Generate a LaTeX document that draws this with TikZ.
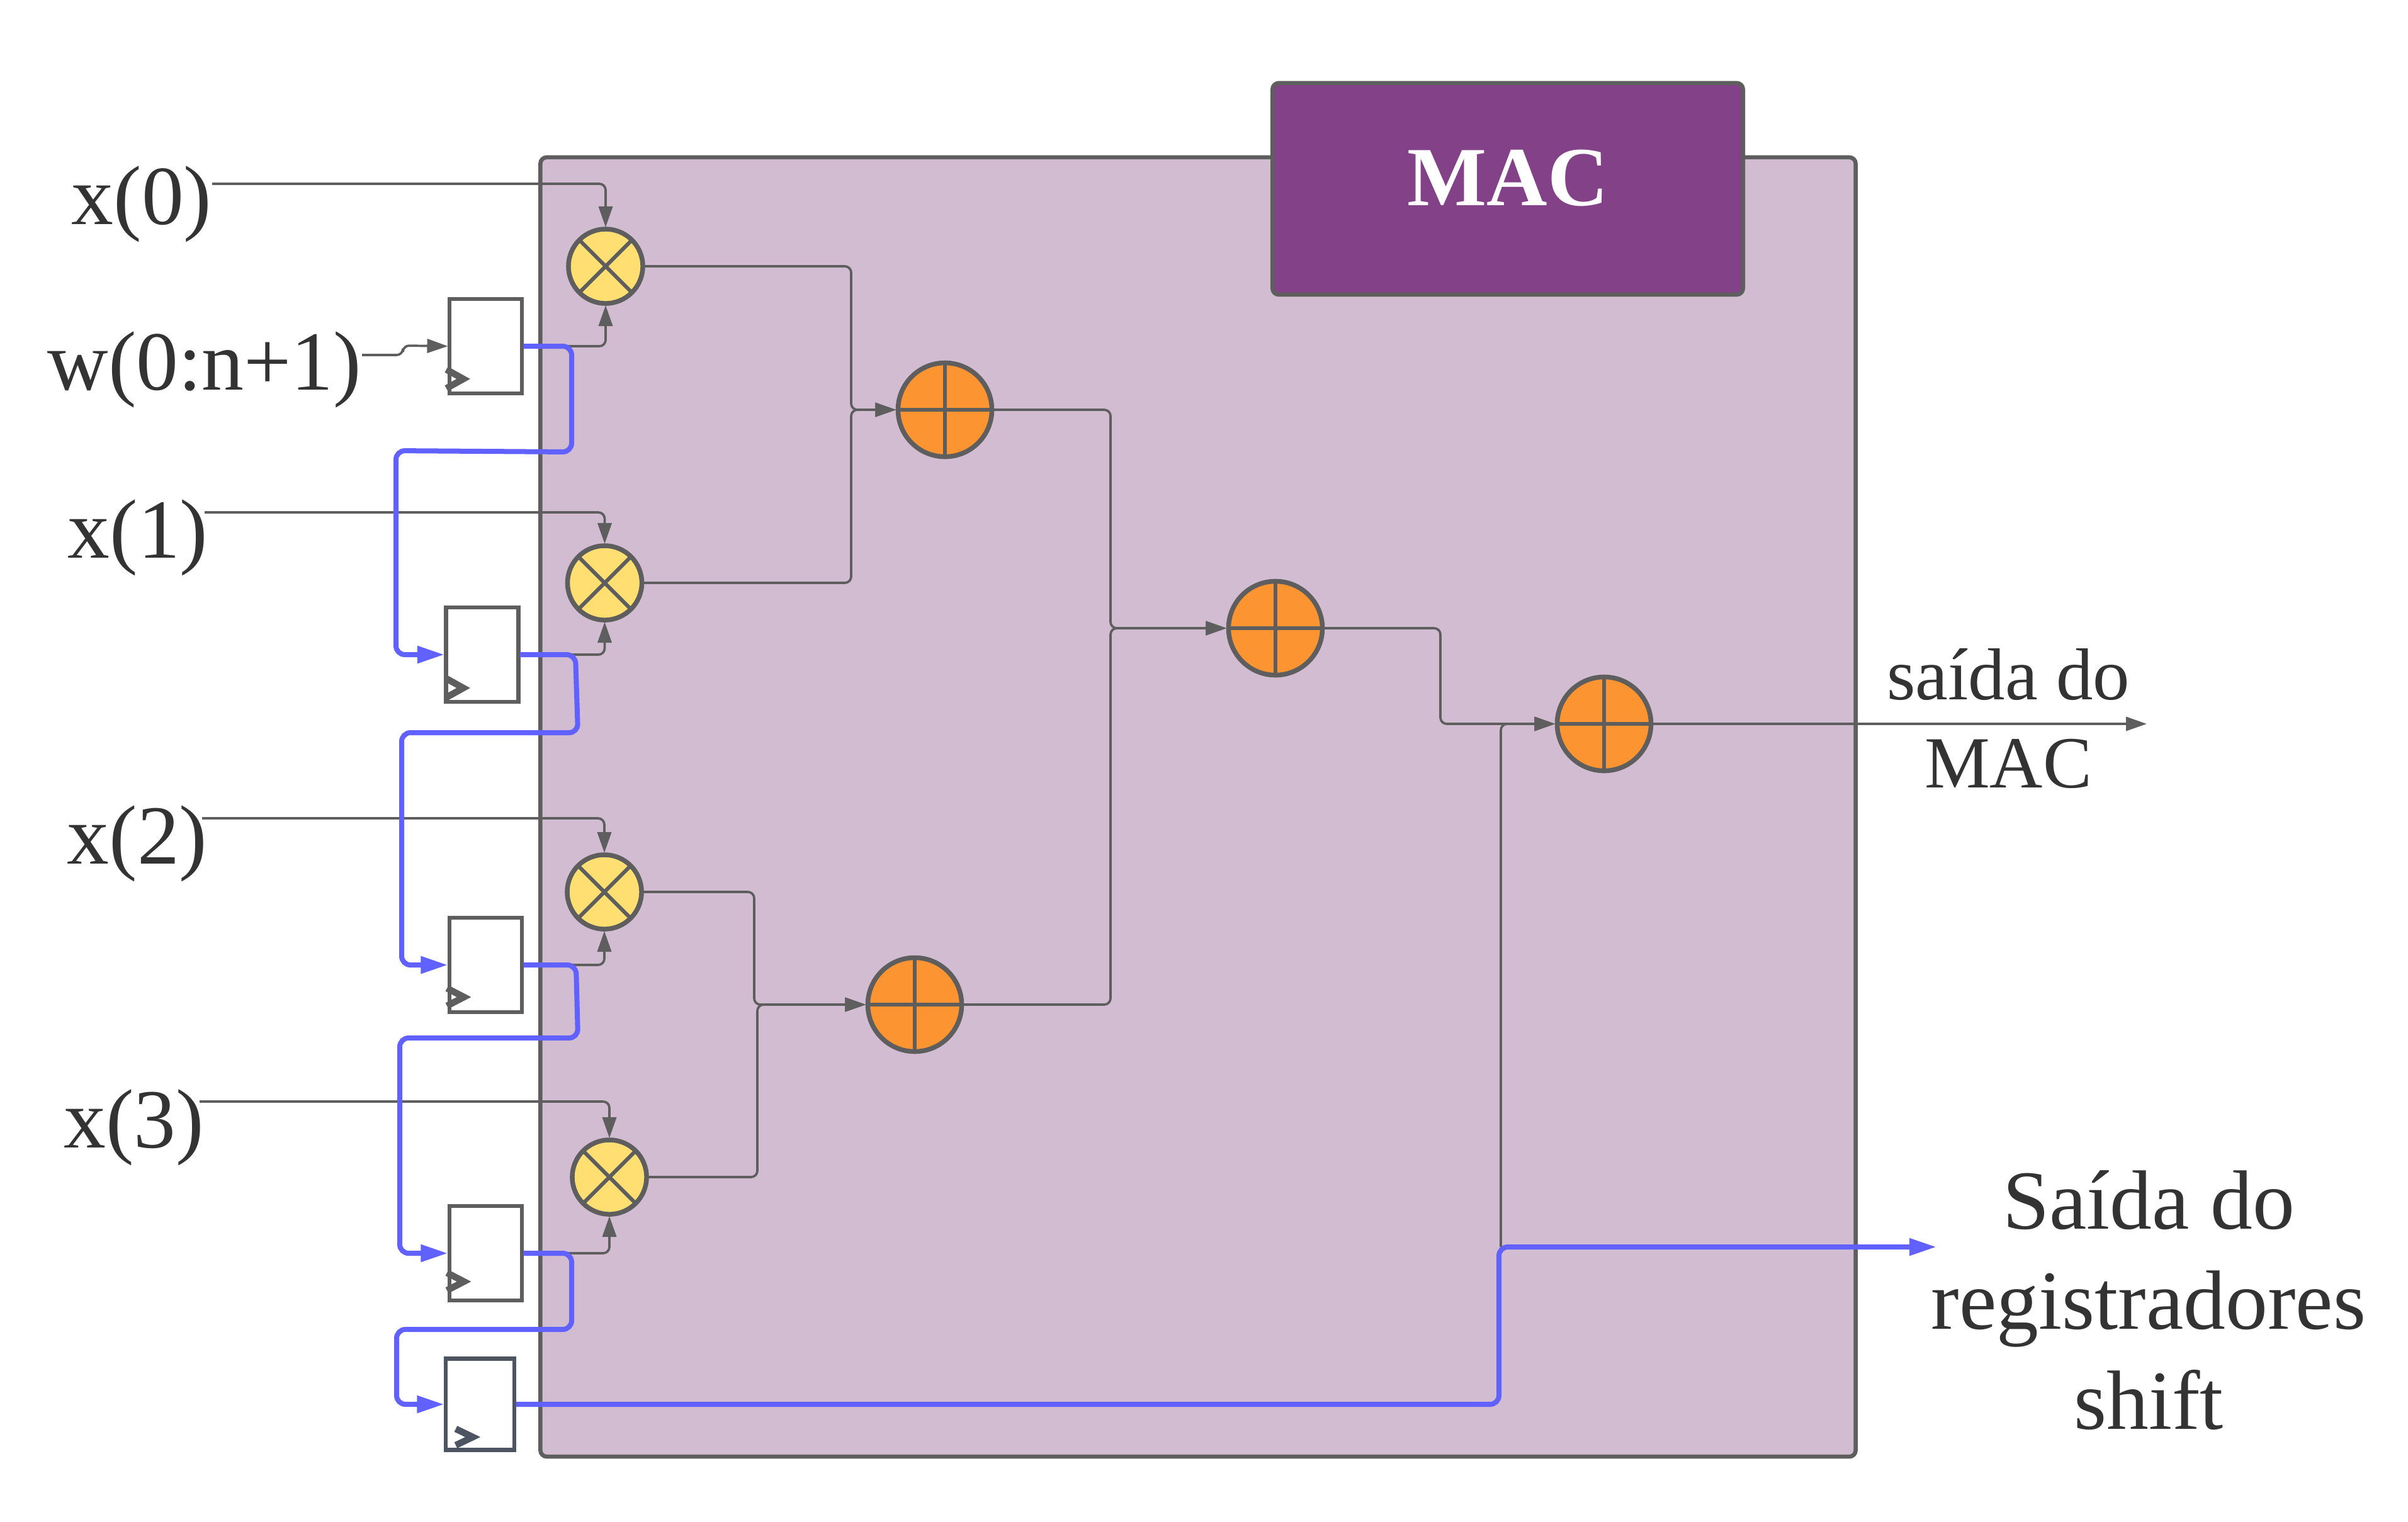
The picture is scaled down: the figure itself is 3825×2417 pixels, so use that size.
\documentclass[tikz,border=0pt]{standalone}
\usepackage{fontspec}
\setmainfont{Liberation Serif}
\usetikzlibrary{arrows.meta,calc}
\definecolor{linegray}{HTML}{5E5E5E}
\definecolor{wireblue}{HTML}{6161FF}
\definecolor{lilac}{HTML}{D1BCD2}
\definecolor{macpurple}{HTML}{834187}
\definecolor{multyellow}{HTML}{FFDF71}
\definecolor{addorange}{HTML}{FC9432}
\definecolor{txt}{HTML}{333333}
\definecolor{slate}{HTML}{4C5561}
\tikzset{
  panel/.style={draw=linegray,line width=0.065cm,rounded corners=0.1cm,inner sep=0pt,outer sep=0pt},
  regbox/.style={draw=linegray,fill=white,line width=0.065cm,minimum width=1.15cm,minimum height=1.5cm,inner sep=0pt,outer sep=0.025cm},
  multc/.style={circle,draw=linegray,fill=multyellow,line width=0.075cm,minimum size=1.18cm,inner sep=0pt,outer sep=0.03cm},
  addc/.style={circle,draw=linegray,fill=addorange,line width=0.075cm,minimum size=1.49cm,inner sep=0pt,outer sep=0.03cm},
  xmark/.style={draw=linegray,line width=0.06cm},
  wire/.style={draw=linegray,line width=0.037cm,rounded corners=0.1cm},
  wirearrow/.style={wire,-{Stealth[inset=0pt,length=0.33cm,width=0.22cm]}},
  bluewire/.style={draw=wireblue,line width=0.08cm,rounded corners=0.14cm},
  bluearrow/.style={bluewire,-{Stealth[inset=0pt,length=0.43cm,width=0.26cm]}},
  clk/.style={draw=linegray,line width=0.105cm,miter limit=10},
  inlabel/.style={text=txt,font=\fontsize{38}{45}\selectfont,anchor=base,inner sep=0pt},
}
\begin{document}
\begin{tikzpicture}[x=0.01cm,y=-0.01cm]
\useasboundingbox (0,0) rectangle (3825,2417);
% panels
\node[panel,fill=lilac,minimum width=20.88cm,minimum height=20.63cm] (panelbody) at (1903,1282) {};
% labels
\node[inlabel] (x0) at (225,356) {x(0)};
\node[inlabel] (w0) at (325,619) {w(0:n+1)};
\node[inlabel] (x1) at (219,886) {x(1)};
\node[inlabel] (x2) at (218,1372) {x(2)};
\node[inlabel] (x3) at (212.5,1823) {x(3)};
% free ends and junctions
\coordinate (c0) at (337,292);
\coordinate (cw) at (575,564);
\coordinate (cws1) at (640,564);
\coordinate (cws2) at (640,549);
\coordinate (c1) at (325,814);
\coordinate (c2) at (321,1300);
\coordinate (c3) at (317,1750);
\coordinate (j0) at (1352,651);
\coordinate (j1) at (1198,1596);
\coordinate (j1b) at (1203,1596);
\coordinate (j2) at (1764,998);
\coordinate (j3) at (2288,1150);
\coordinate (g0) at (2384,1981);
\coordinate (oute) at (3410,1150);
\coordinate (outb) at (3076,1981);
\coordinate (b4a) at (2381,1981);
\coordinate (b0a) at (908,718);
\coordinate (b0b) at (629,716);
\coordinate (b1a) at (914,1040);
\coordinate (b1b) at (918,1164);
\coordinate (b1c) at (638,1164);
\coordinate (b2a) at (915,1533);
\coordinate (b2b) at (918,1649);
\coordinate (b2c) at (635,1649);
\coordinate (b3a) at (908,2112);
\coordinate (b3b) at (630,2112);
% multipliers, adders, registers
\node[multc] (m0) at (962,423) {};
\node[multc] (m1) at (960.5,926) {};
\node[multc] (m2) at (960,1417) {};
\node[multc] (m3) at (968,1870) {};
\node[addc] (a0) at (1501,651) {};
\node[addc] (a1) at (1453,1596) {};
\node[addc] (a2) at (2026,998) {};
\node[addc] (a3) at (2548,1150) {};
\node[regbox] (r0) at (771.5,550) {};
\node[regbox] (r1) at (766,1040) {};
\node[regbox] (r2) at (771.5,1533) {};
\node[regbox] (r3) at (771.5,1991) {};
\node[regbox,draw=slate,minimum width=1.09cm,minimum height=1.45cm] (r4) at (762.5,2231) {};
% symbols in circles
\foreach \m in {m0,m1,m2,m3} {
  \draw[xmark] (\m.north east) -- (\m.south west);
  \draw[xmark] (\m.north west) -- (\m.south east);
}
\foreach \a in {a0,a1,a2,a3} {
  \draw[xmark] (\a.north) -- (\a.south);
  \draw[xmark] (\a.west) -- (\a.east);
}
% clock marks
\draw[clk] (709,587) -- (736,602) -- (709,617);
\draw[clk] (709,1078) -- (736,1093) -- (709,1108);
\draw[clk] (710,1570) -- (737,1584) -- (710,1598);
\draw[clk] (710,2022) -- (737,2036) -- (710,2050);
\draw[clk,draw=slate] (724,2270) -- (751,2283) -- (724,2296);
% gray connectors
\draw[wirearrow] (c0) -| (m0.north);
\draw[wirearrow] (c1) -| (m1.north);
\draw[wirearrow] (c2) -| (m2.north);
\draw[wirearrow] (c3) -| (m3.north);
\draw[wirearrow] (cw) -- (cws1) -- (cws2) -- (r0.west);
\draw[wirearrow] (r0.east) -| (m0.south);
\draw[wirearrow] (r1.east) -| (m1.south);
\draw[wirearrow] (r2.east) -| (m2.south);
\draw[wirearrow] (r3.east) -| (m3.south);
\draw[wirearrow] (m0.east) -| (j0) -- (a0.west);
\draw[wirearrow] (m1.east) -| (j0) -- (a0.west);
\draw[wirearrow] (m2.east) -| (j1) -- (a1.west);
\draw[wirearrow] (m3.east) -| (j1b) -- (a1.west);
\draw[wirearrow] (a0.east) -| (j2) -- (a2.west);
\draw[wirearrow] (a1.east) -| (j2) -- (a2.west);
\draw[wirearrow] (a2.east) -| (j3) -- (a3.west);
\draw[wirearrow] (g0) |- (a3.west);
\draw[wirearrow] (a3.east) -- (oute);
% blue connectors
\draw[bluearrow] (r0.east) -| (b0a) -- (b0b) |- (r1.west);
\draw[bluearrow] (r1.east) -- (b1a) -- (b1b) -- (b1c) |- (r2.west);
\draw[bluearrow] (r2.east) -- (b2a) -- (b2b) -- (b2c) |- (r3.west);
\draw[bluearrow] (r3.east) -| (b3a) -- (b3b) |- (r4.west);
\draw[bluearrow] (r4.east) -| (b4a) -- (outb);
% title box
\node[panel,fill=macpurple,minimum width=7.47cm,minimum height=3.36cm] (macbox) at (2395,300) {};
\node[anchor=base,inner sep=0pt,text=white,font=\fontsize{38}{44}\selectfont\bfseries] (mactitle) at (2395,326.5) {MAC};
% output labels
\node[text=txt,font=\fontsize{33.2}{39.8}\selectfont,align=center,inner sep=0pt] (outmac) at (3190,1141) {saída do\\MAC};
\node[text=txt,font=\fontsize{38}{45.2}\selectfont,align=center,inner sep=0pt] (outreg) at (3413,2066) {Saída do\\registradores\\shift};
\end{tikzpicture}
\end{document}
